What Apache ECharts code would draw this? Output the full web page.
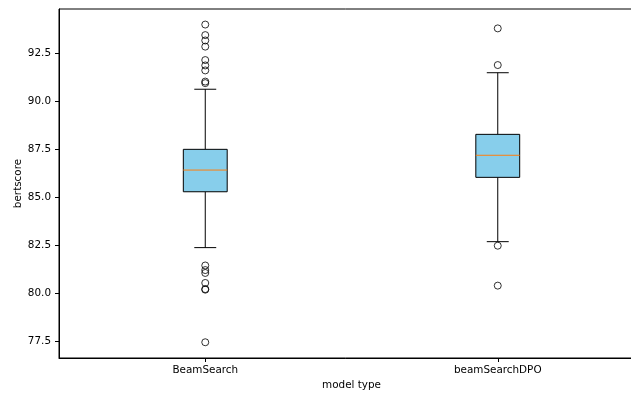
<!DOCTYPE html>
<html>
<head>
<meta charset="utf-8">
<script src="https://cdn.jsdelivr.net/npm/echarts@6/dist/echarts.min.js"></script>
<style>
  html, body { margin: 0; padding: 0; background: #fff; }
  #chart { width: 631px; height: 394px; }
</style>
</head>
<body>
<div id="chart"></div>
<script>
// Model variants on the x axis
const categories = ['BeamSearch', 'beamSearchDPO'];

// Five-number summaries: [lower whisker, Q1, median, Q3, upper whisker]
const beamSearchStats = [82.40, 85.31, 86.44, 87.52, 90.65];
const beamSearchDpoStats = [82.71, 86.06, 87.21, 88.30, 91.51];

// Points beyond the whiskers
const beamSearchOutliers = [94.02, 93.47, 93.19, 92.87, 92.17, 91.89, 91.63, 91.05, 90.97,
                            81.47, 81.23, 81.08, 80.56, 80.24, 80.21, 77.47];
const beamSearchDpoOutliers = [93.82, 91.91, 82.50, 80.42];

// Y axis range and tick values
const yMin = 76.65;
const yMax = 94.83;
const yTicks = [77.5, 80.0, 82.5, 85.0, 87.5, 90.0, 92.5];

const boxData = [
  [0].concat(beamSearchStats),
  [1].concat(beamSearchDpoStats)
];
const outlierData = beamSearchOutliers.map(v => [0, v])
  .concat(beamSearchDpoOutliers.map(v => [1, v]));

const FONT = 'DejaVu Sans';
const FONT_SIZE = 10.4;

function renderBox(params, api) {
  const cat = api.value(0);
  const lo = api.coord([cat, api.value(1)]);
  const q1 = api.coord([cat, api.value(2)]);
  const med = api.coord([cat, api.value(3)]);
  const q3 = api.coord([cat, api.value(4)]);
  const hi = api.coord([cat, api.value(5)]);
  const band = api.size([1, 0])[0];
  const bw = band * 0.15;
  const cw = bw / 2;
  const x = lo[0];
  const lineStyle = { stroke: '#000', lineWidth: 1, fill: null };
  return {
    type: 'group',
    children: [
      { type: 'line', shape: { x1: x, y1: q1[1], x2: x, y2: lo[1] }, style: lineStyle },
      { type: 'line', shape: { x1: x, y1: q3[1], x2: x, y2: hi[1] }, style: lineStyle },
      { type: 'line', shape: { x1: x - cw / 2, y1: lo[1], x2: x + cw / 2, y2: lo[1] }, style: lineStyle },
      { type: 'line', shape: { x1: x - cw / 2, y1: hi[1], x2: x + cw / 2, y2: hi[1] }, style: lineStyle },
      { type: 'rect', shape: { x: x - bw / 2, y: q3[1], width: bw, height: q1[1] - q3[1] },
        style: { fill: '#87ceeb', stroke: '#000', lineWidth: 1 } },
      { type: 'line', shape: { x1: x - bw / 2, y1: med[1], x2: x + bw / 2, y2: med[1] },
        style: { stroke: '#ff7f0e', lineWidth: 1 } }
    ]
  };
}

const chart = echarts.init(document.getElementById('chart'), null, { renderer: 'canvas' });
chart.setOption({
  animation: false,
  backgroundColor: '#fff',
  grid: {
    left: 59, top: 9, width: 585, height: 349,
    outerBoundsMode: 'none',
    containLabel: false,
    show: true, borderColor: '#000', borderWidth: 1, backgroundColor: 'transparent'
  },
  xAxis: {
    type: 'category',
    data: categories,
    boundaryGap: true,
    name: 'model type',
    nameLocation: 'middle',
    nameGap: 22,
    nameMoveOverlap: false,
    nameTextStyle: { fontFamily: FONT, fontSize: FONT_SIZE, color: '#000' },
    axisLine: { show: true, lineStyle: { color: '#000', width: 1 } },
    axisTick: { show: true, alignWithLabel: true, length: 4, lineStyle: { color: '#000' } },
    axisLabel: { fontFamily: FONT, fontSize: FONT_SIZE, color: '#000', margin: 7 },
    splitLine: { show: false }
  },
  yAxis: {
    type: 'value',
    min: yMin,
    max: yMax,
    name: 'bertscore',
    nameLocation: 'middle',
    nameGap: 36,
    nameMoveOverlap: false,
    nameTextStyle: { fontFamily: FONT, fontSize: FONT_SIZE, color: '#000' },
    axisLine: { show: true, lineStyle: { color: '#000', width: 1 } },
    axisTick: { show: true, length: 4, customValues: yTicks, lineStyle: { color: '#000' } },
    axisLabel: {
      fontFamily: FONT, fontSize: FONT_SIZE, color: '#000', margin: 8,
      customValues: yTicks,
      formatter: v => Number(v).toFixed(1)
    },
    splitLine: { show: false }
  },
  series: [
    {
      type: 'custom',
      renderItem: renderBox,
      data: boxData,
      encode: { x: 0, y: [1, 2, 3, 4, 5] },
      z: 2
    },
    {
      type: 'scatter',
      data: outlierData,
      symbol: 'circle',
      symbolSize: 7,
      itemStyle: { color: 'rgba(0,0,0,0)', borderColor: '#000', borderWidth: 1 },
      z: 3
    }
  ]
});
</script>
</body>
</html>
